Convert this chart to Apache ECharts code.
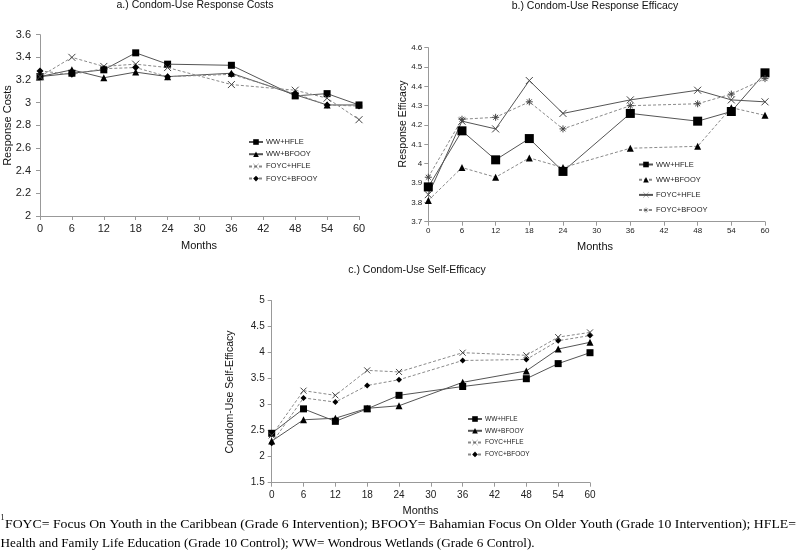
<!DOCTYPE html>
<html>
<head>
<meta charset="utf-8">
<script src="https://cdn.jsdelivr.net/npm/echarts@6/dist/echarts.min.js"></script>
<style>
html,body{margin:0;padding:0;background:#fff;}
#chart{width:800px;height:555px;}
</style>
</head>
<body>
<div id="chart"></div>
<script>
// ---------- data ----------
const months = [0, 6, 12, 18, 24, 36, 48, 54, 60];
const seriesNames = ['WW+HFLE', 'WW+BFOOY', 'FOYC+HFLE', 'FOYC+BFOOY'];

// a.) Response Costs
const costWWHFLE   = [3.23, 3.26, 3.29, 3.44, 3.34, 3.33, 3.06, 3.08, 2.98];
const costWWBFOOY  = [3.23, 3.29, 3.22, 3.27, 3.23, 3.26, 3.07, 2.98, 2.98];
const costFOYCHFLE = [3.23, 3.40, 3.32, 3.34, 3.31, 3.16, 3.11, 3.04, 2.85];
const costFOYCBFOOY= [3.28, 3.25, 3.30, 3.31, 3.23, 3.25, 3.08, 2.98, 2.97];

// b.) Response Efficacy
const effWWHFLE    = [3.88, 4.17, 4.02, 4.13, 3.96, 4.26, 4.22, 4.27, 4.47];
const effWWBFOOY   = [3.81, 3.98, 3.93, 4.03, 3.98, 4.08, 4.09, 4.29, 4.25];
const effFOYCHFLE  = [3.84, 4.22, 4.18, 4.43, 4.26, 4.33, 4.38, 4.33, 4.32];
const effFOYCBFOOY = [3.93, 4.23, 4.24, 4.32, 4.18, 4.30, 4.31, 4.36, 4.44];

// c.) Self-Efficacy
const seWWHFLE     = [2.45, 2.92, 2.68, 2.92, 3.18, 3.35, 3.50, 3.79, 4.00];
const seWWBFOOY    = [2.30, 2.71, 2.74, 2.93, 2.98, 3.43, 3.65, 4.07, 4.20];
const seFOYCHFLE   = [2.41, 3.27, 3.18, 3.66, 3.63, 4.00, 3.95, 4.30, 4.39];
const seFOYCBFOOY  = [2.26, 3.13, 3.05, 3.37, 3.48, 3.85, 3.87, 4.23, 4.33];

const panelTitles = ['a.) Condom-Use Response Costs', 'b.) Condom-Use Response Efficacy', 'c.) Condom-Use Self-Efficacy'];
const yNames = ['Response Costs', 'Response Efficacy', 'Condom-Use Self-Efficacy'];
const xName = 'Months';
const footLine1 = 'FOYC= Focus On Youth in the Caribbean (Grade 6 Intervention); BFOOY= Bahamian Focus On Older Youth (Grade 10 Intervention); HFLE=';
const footLine2 = 'Health and Family Life Education (Grade 10 Control); WW= Wondrous Wetlands (Grade 6 Control).';

// ---------- styling ----------
const FONT = 'Liberation Sans, Arial, sans-serif';
const SERIF = 'Liberation Serif, Times New Roman, serif';
const X_PATH = 'path://M0,0L10,10M10,0L0,10';
const AST_PATH = 'path://M5,0L5,10M0,5L10,5M1.5,1.5L8.5,8.5M8.5,1.5L1.5,8.5';
const SOLID = '#555', DASH = '#8a8a8a';

const panels = [
  { grid: {left: 40, top: 34.7, width: 319, height: 181.3}, y: {min: 2, max: 3.6, interval: 0.2},
    tickFont: 11, xMargin: 7, yMargin: 9,
    data: [costWWHFLE, costWWBFOOY, costFOYCHFLE, costFOYCBFOOY],
    sym: ['rect', 'triangle', X_PATH, 'diamond'], size: [7, 7, 7, 7],
    dashed: [false, false, true, true],
    legend: {left: 248, top: 138, gap: 4.2, font: 7.5} },
  { grid: {left: 428.3, top: 47.7, width: 336.7, height: 174}, y: {min: 3.7, max: 4.6, interval: 0.1},
    tickFont: 8, xMargin: 5, yMargin: 6,
    data: [effWWHFLE, effWWBFOOY, effFOYCHFLE, effFOYCBFOOY],
    sym: ['rect', 'triangle', X_PATH, AST_PATH], size: [9, 7, 7, 7],
    dashed: [false, true, false, true],
    legend: {left: 638, top: 160.5, gap: 7.2, font: 7.5} },
  { grid: {left: 271.7, top: 300.7, width: 318.3, height: 182}, y: {min: 1.5, max: 5, interval: 0.5},
    tickFont: 10, xMargin: 8, yMargin: 7,
    data: [seWWHFLE, seWWBFOOY, seFOYCHFLE, seFOYCBFOOY],
    sym: ['rect', 'triangle', X_PATH, 'diamond'], size: [7, 7, 6, 6],
    dashed: [false, false, true, true],
    legend: {left: 467, top: 415.5, gap: 4.8, font: 6.5} }
];
const suffix = ['|a', '|b', '|c'];

const grids = [], xAxes = [], yAxes = [], series = [], legends = [];
panels.forEach((p, pi) => {
  grids.push(Object.assign({containLabel: false}, p.grid));
  xAxes.push({
    type: 'value', gridIndex: pi, min: 0, max: 60, interval: 6,
    axisLine: {lineStyle: {color: '#999'}},
    axisTick: {length: 4, lineStyle: {color: '#999'}},
    axisLabel: {fontSize: p.tickFont, color: '#222', margin: p.xMargin, fontFamily: FONT},
    splitLine: {show: false}
  });
  yAxes.push({
    type: 'value', gridIndex: pi, min: p.y.min, max: p.y.max, interval: p.y.interval,
    axisLine: {show: true, lineStyle: {color: '#999'}},
    axisTick: {show: true, length: 4, lineStyle: {color: '#999'}},
    axisLabel: {fontSize: p.tickFont, color: '#222', margin: p.yMargin, fontFamily: FONT},
    splitLine: {show: false}
  });
  const legendData = [];
  seriesNames.forEach((sn, si) => {
    const nm = sn + suffix[pi];
    const isPath = p.sym[si].indexOf('path://') === 0;
    legendData.push(isPath ? {name: nm, itemStyle: {borderWidth: 0.4}} : {name: nm});
    const lineColor = p.dashed[si] ? DASH : SOLID;
    series.push({
      type: 'line', name: nm, xAxisIndex: pi, yAxisIndex: pi,
      data: months.map((m, k) => [m, p.data[si][k]]),
      symbol: p.sym[si], symbolSize: p.size[si],
      showAllSymbol: true,
      lineStyle: {color: lineColor, width: 1, type: p.dashed[si] ? [3, 2] : 'solid'},
      itemStyle: isPath ? {color: '#444', borderColor: '#444', borderWidth: 1} : {color: '#000', borderWidth: 0},
      emphasis: {disabled: true},
      z: 3
    });
  });
  legends.push({
    data: legendData, orient: 'vertical', left: p.legend.left, top: p.legend.top,
    itemWidth: 14, itemHeight: 7, itemGap: p.legend.gap, padding: 0,
    selectedMode: false,
    formatter: n => n.split('|')[0],
    textStyle: {fontSize: p.legend.font, color: '#222', fontFamily: FONT, padding: [0, 0, 0, -2]}
  });
});

function txt(text, x, y, size, opts) {
  return {
    type: 'text', x: x, y: y,
    style: Object.assign({text: text, fontSize: size, fontFamily: FONT, fill: '#111', textAlign: 'center', textVerticalAlign: 'middle'}, opts || {})
  };
}

const graphics = [
  txt(panelTitles[0], 195, 5.5, 10.5),
  txt(panelTitles[1], 595, 6.5, 10.5),
  txt(panelTitles[2], 417, 270, 10.5),
  Object.assign(txt(yNames[0], 8, 125.5, 11), {rotation: Math.PI / 2}),
  Object.assign(txt(yNames[1], 403, 124, 10.5), {rotation: Math.PI / 2}),
  Object.assign(txt(yNames[2], 230.5, 392, 10.5), {rotation: Math.PI / 2}),
  txt(xName, 199, 246, 11),
  txt(xName, 595, 247, 11),
  txt(xName, 420.5, 511, 11),
  txt('1', 0.5, 518, 8, {textAlign: 'left', fontFamily: SERIF, fill: '#000'}),
  {type: 'text', x: 5, y: 524.5, scaleX: 1.043, style: {text: footLine1, fontSize: 13.2, fontFamily: SERIF, fill: '#000', textAlign: 'left', textVerticalAlign: 'middle'}},
  {type: 'text', x: 0.5, y: 543.5, style: {text: footLine2, fontSize: 13.2, fontFamily: SERIF, fill: '#000', textAlign: 'left', textVerticalAlign: 'middle'}}
];

const chart = echarts.init(document.getElementById('chart'), null, {renderer: 'canvas'});
chart.setOption({
  animation: false,
  backgroundColor: '#fff',
  grid: grids, xAxis: xAxes, yAxis: yAxes,
  legend: legends, series: series, graphic: graphics
});
</script>
</body>
</html>
